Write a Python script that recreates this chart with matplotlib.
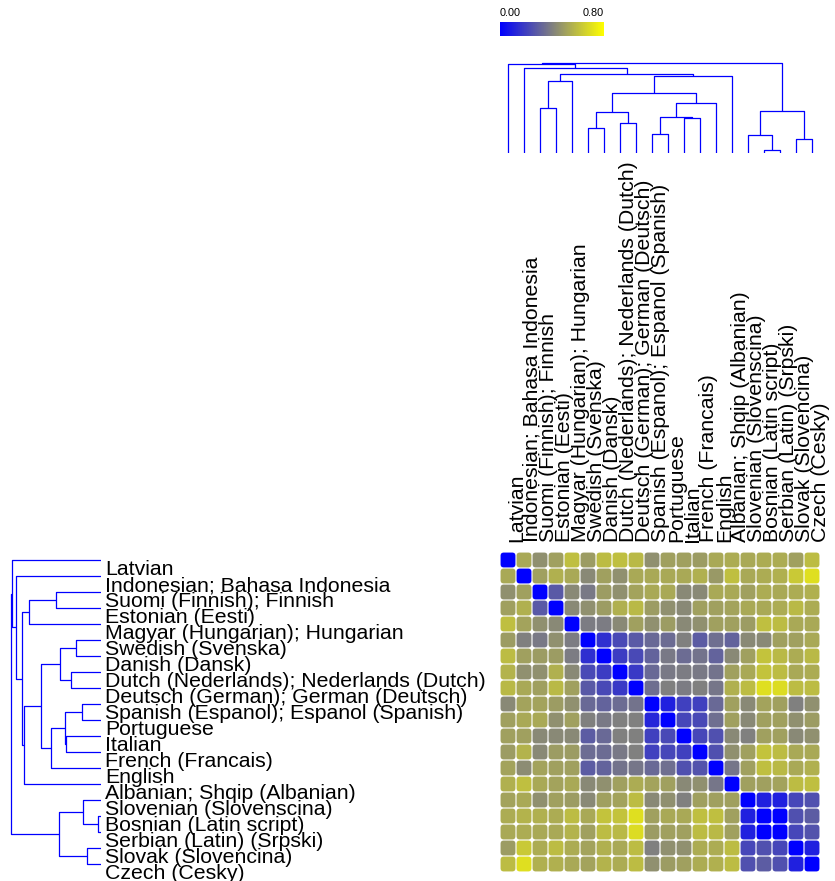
import matplotlib
matplotlib.use('Agg')
import matplotlib.pyplot as plt
from matplotlib.colors import LinearSegmentedColormap
from matplotlib.patches import FancyBboxPatch
import numpy as np

languages = ['Latvian', 'Indonesian; Bahasa Indonesia', 'Suomi (Finnish); Finnish',
             'Estonian (Eesti)', 'Magyar (Hungarian); Hungarian', 'Swedish (Svenska)',
             'Danish (Dansk)', 'Dutch (Nederlands); Nederlands (Dutch)',
             'Deutsch (German); German (Deutsch)', 'Spanish (Espanol); Espanol (Spanish)',
             'Portuguese', 'Italian', 'French (Francais)', 'English',
             'Albanian; Shqip (Albanian)', 'Slovenian (Slovenscina)', 'Bosnian (Latin script)',
             'Serbian (Latin) (Srpski)', 'Slovak (Slovencina)', 'Czech (Cesky)']

# distance matrix, rows/cols in dendrogram order
dist = [
    [0, .53, .45, .50, .60, .49, .59, .60, .58, .45, .50, .50, .49, .53, .54, .53, .54, .54, .50, .59],
    [.53, 0, .50, .55, .53, .43, .50, .45, .53, .53, .53, .53, .55, .48, .60, .53, .54, .55, .63, .70],
    [.45, .50, 0, .28, .43, .38, .49, .45, .51, .53, .53, .43, .43, .53, .53, .50, .54, .53, .54, .55],
    [.50, .55, .28, 0, .43, .45, .49, .55, .58, .49, .45, .43, .50, .50, .51, .53, .53, .54, .58, .54],
    [.60, .51, .45, .43, 0, .39, .39, .43, .50, .45, .49, .43, .45, .50, .50, .49, .60, .59, .53, .53],
    [.49, .40, .38, .45, .39, 0, .15, .23, .28, .33, .34, .40, .29, .35, .31, .43, .43, .50, .50, .53],
    [.59, .50, .49, .49, .39, .15, 0, .19, .23, .31, .38, .34, .36, .31, .43, .50, .61, .58, .54, .58],
    [.56, .45, .45, .55, .43, .23, .19, 0, .18, .33, .38, .39, .38, .36, .50, .53, .61, .59, .53, .54],
    [.58, .53, .50, .58, .50, .28, .23, .18, 0, .35, .40, .39, .40, .37, .55, .59, .70, .69, .59, .59],
    [.43, .51, .51, .49, .45, .33, .31, .34, .36, 0, .10, .20, .20, .33, .50, .43, .51, .50, .40, .45],
    [.50, .53, .53, .45, .50, .40, .38, .40, .40, .12, 0, .22, .23, .35, .50, .43, .50, .50, .45, .49],
    [.50, .50, .43, .43, .43, .29, .33, .40, .40, .20, .23, 0, .22, .25, .43, .40, .50, .50, .43, .45],
    [.49, .56, .43, .49, .49, .34, .34, .38, .40, .20, .22, .20, 0, .25, .45, .50, .61, .59, .53, .53],
    [.51, .44, .51, .50, .50, .29, .31, .36, .37, .33, .35, .25, .26, 0, .37, .50, .60, .58, .53, .55],
    [.55, .60, .53, .51, .53, .43, .45, .50, .54, .51, .50, .43, .45, .37, 0, .50, .50, .51, .59, .60],
    [.51, .53, .45, .50, .49, .43, .50, .51, .59, .43, .45, .40, .50, .50, .50, 0, .10, .10, .22, .25],
    [.54, .56, .55, .54, .59, .53, .61, .61, .70, .50, .53, .53, .60, .60, .50, .10, 0, 0, .25, .29],
    [.53, .54, .53, .53, .56, .50, .59, .58, .69, .49, .50, .50, .59, .58, .50, .10, 0, 0, .22, .26],
    [.49, .63, .54, .59, .54, .51, .55, .53, .59, .40, .45, .45, .54, .54, .59, .22, .25, .22, 0, .10],
    [.59, .70, .55, .55, .53, .51, .56, .54, .59, .45, .49, .50, .54, .55, .59, .25, .29, .25, .10, 0],
]

# linkage: (node a, node b, height); leaves are 0..19, merges numbered from 20
merges = [
    (16, 17, 0.03), (9, 10, 0.19), (18, 19, 0.14), (15, 20, 0.185),
    (5, 6, 0.25), (7, 8, 0.30), (11, 12, 0.355), (21, 26, 0.365),
    (24, 25, 0.415), (23, 22, 0.42), (2, 3, 0.455), (27, 13, 0.505),
    (28, 31, 0.605), (30, 4, 0.725), (32, 14, 0.775), (33, 34, 0.795),
    (1, 35, 0.855), (0, 36, 0.89), (37, 29, 0.905),
]

cmap = LinearSegmentedColormap.from_list('byg', ['#0000ff', '#808080', '#ffff00'])
norm = plt.Normalize(0, 0.8)

W, H = 835, 881
fig = plt.figure(figsize=(W / 100, H / 100), dpi=100)
fig.patch.set_facecolor('white')


def px_axes(x0, y0, x1, y1):
    ax = fig.add_axes([x0 / W, 1 - y1 / H, (x1 - x0) / W, (y1 - y0) / H])
    ax.axis('off')
    return ax


def dendro_segments():
    n = len(languages)
    pos = {i: i + 0.5 for i in range(n)}
    hgt = {i: 0.0 for i in range(n)}
    segs = []
    for k, (a, b, h) in enumerate(merges):
        segs.append(([pos[a], pos[a], pos[b], pos[b]], [hgt[a], h, h, hgt[b]]))
        pos[n + k] = (pos[a] + pos[b]) / 2
        hgt[n + k] = h
    return segs


segs = dendro_segments()

# heatmap
ax = px_axes(500, 552, 820, 872)
ax.set_xlim(0, 20)
ax.set_ylim(20, 0)
for r, row in enumerate(dist):
    for c, v in enumerate(row):
        ax.add_patch(FancyBboxPatch((c + 0.035, r + 0.035), 0.93, 0.93,
                                    boxstyle='round,pad=0,rounding_size=0.2',
                                    fc=cmap(norm(v)), ec='none'))

font = 'Liberation Sans'
for i, name in enumerate(languages):
    ax.text(-24.66, i + 1.44, name, ha='left', va='baseline', fontsize=15.3,
            family=font, clip_on=False)
    ax.text(i + 1.36, -0.62, name, ha='left', va='baseline', rotation=90,
            rotation_mode='anchor', fontsize=15.3, family=font, clip_on=False)

# left dendrogram
axl = px_axes(0, 552, 101, 872)
axl.set_ylim(20, 0)
axl.set_xlim(1.01, 0)
for xs, ys in segs:
    axl.plot(ys, xs, color='#0000ff', lw=0.9, solid_capstyle='butt')

# top dendrogram
axt = px_axes(500, 52, 820, 153)
axt.set_xlim(0, 20)
axt.set_ylim(0, 1.01)
for xs, ys in segs:
    axt.plot(xs, ys, color='#0000ff', lw=0.9, solid_capstyle='butt')

# colour key
axc = px_axes(500, 22, 604, 36)
axc.imshow(np.linspace(0, 0.8, 256)[None, :], aspect='auto', cmap=cmap, norm=norm)
fig.text(500 / W, 1 - 16 / H, '0.00', ha='left', va='baseline', fontsize=7.8, family=font)
fig.text(604 / W, 1 - 16 / H, '0.80', ha='right', va='baseline', fontsize=7.8, family=font)

fig.savefig('out.png', dpi=100, facecolor='white')
